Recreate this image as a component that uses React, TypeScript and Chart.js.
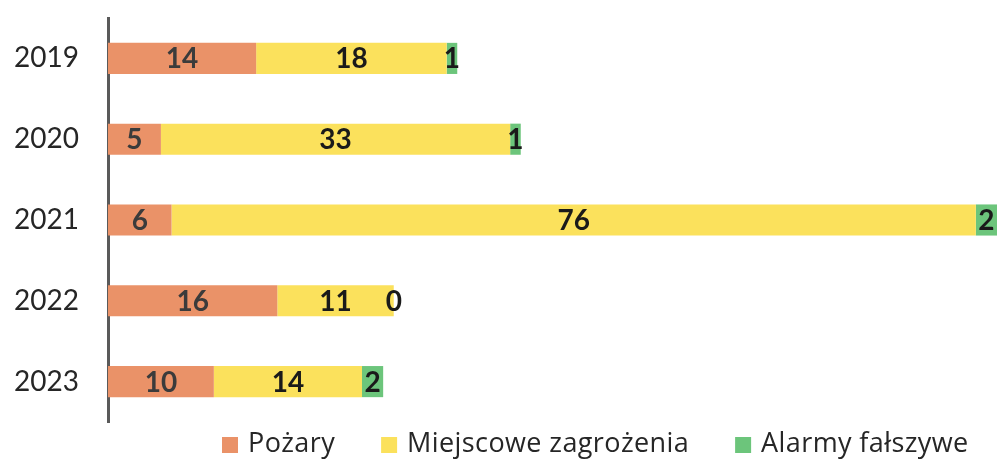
import React, { useEffect, useRef } from "react";
import { Chart, registerables } from "chart.js";

Chart.register(...registerables);

const years = ["2019", "2020", "2021", "2022", "2023"];
const seriesNames = ["Pożary", "Miejscowe zagrożenia", "Alarmy fałszywe"];
const pozary = [14, 5, 6, 16, 10];
const miejscowe = [18, 33, 76, 11, 14];
const alarmy = [1, 1, 2, 0, 2];
const colors = ["#EA9268", "#FBE15C", "#6CC57B"];
const labelColors = ["#3b3b3b", "#1a1a1a", "#1a1a1a"];

const FONT = "Lato, 'Open Sans', sans-serif";
const LEGEND_FONT = "'Open Sans', Lato, sans-serif";

const valueLabels = {
  id: "valueLabels",
  afterDatasetsDraw(chart: any) {
    const ctx = chart.ctx;
    ctx.save();
    ctx.font = `bold 28px ${FONT}`;
    ctx.textAlign = "center";
    ctx.textBaseline = "middle";
    chart.data.datasets.forEach((ds: any, di: number) => {
      const meta = chart.getDatasetMeta(di);
      meta.data.forEach((bar: any, i: number) => {
        const v = ds.data[i];
        const cx = (bar.x + bar.base) / 2;
        ctx.fillStyle = labelColors[di];
        ctx.fillText(String(v), cx, bar.y + 1);
      });
    });
    ctx.restore();
  },
};

const customLegend = {
  id: "customLegend",
  afterDraw(chart: any) {
    const ctx = chart.ctx;
    ctx.save();
    ctx.font = `27px ${LEGEND_FONT}`;
    try { (ctx as any).letterSpacing = "0.4px"; } catch (e) {}
    ctx.textBaseline = "middle";
    ctx.textAlign = "left";
    let x = 222;
    const y = 444;
    chart.data.datasets.forEach((ds: any) => {
      ctx.fillStyle = ds.backgroundColor;
      ctx.fillRect(x, y - 7, 16, 16);
      ctx.fillStyle = "#262626";
      const tx = x + 26;
      ctx.fillText(ds.label, tx, y);
      x = tx + ctx.measureText(ds.label).width + 46;
    });
    ctx.restore();
  },
};

export default function App() {
  const ref = useRef<HTMLCanvasElement | null>(null);
  useEffect(() => {
    document.body.style.margin = "0";
    const seriesData = [pozary, miejscowe, alarmy];
    const chart = new Chart(ref.current as HTMLCanvasElement, {
      type: "bar",
      data: {
        labels: years,
        datasets: seriesNames.map((name, i) => ({
          label: name,
          data: seriesData[i],
          backgroundColor: colors[i],
          borderWidth: 0,
          barPercentage: 0.385,
          categoryPercentage: 1,
        })),
      },
      options: {
        indexAxis: "y",
        animation: false,
        responsive: false,
        maintainAspectRatio: false,
        layout: { padding: { left: 14, right: 6, top: 18, bottom: 44 } },
        plugins: {
          legend: { display: false },
          tooltip: { enabled: false },
        },
        scales: {
          x: {
            stacked: true,
            min: 0,
            max: 84,
            display: false,
          },
          y: {
            stacked: true,
            grid: { display: false, drawTicks: false },
            border: { display: true, color: "#5a5a5a", width: 3 },
            ticks: {
              color: "#262626",
              font: { family: FONT, size: 28 },
              padding: 0,
              crossAlign: "far",
            },
            afterFit(scale: any) {
              scale.width = 94;
            },
          },
        },
      },
      plugins: [valueLabels, customLegend],
    });
    return () => chart.destroy();
  }, []);
  return (
    <div style={{ position: "absolute", left: 0, top: 0, width: 1003, height: 466, background: "#fff" }}>
      <canvas ref={ref} width={1003} height={466} style={{ display: "block" }} />
    </div>
  );
}
